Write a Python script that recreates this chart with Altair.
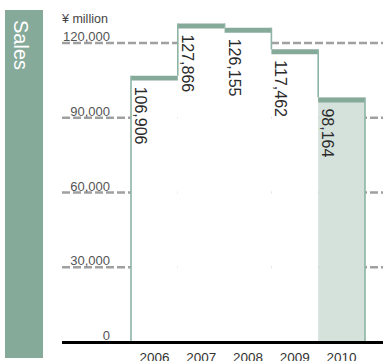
import altair as alt
import pandas as pd

years = ["2006", "2007", "2008", "2009", "2010"]
sales = [106906, 127866, 126155, 117462, 98164]
highlight = [False, False, False, False, True]
tick_values = [0, 30000, 60000, 90000, 120000]
tick_labels = ["0", "30,000", "60,000", "90,000", "120,000"]
grid_values = [30000, 60000, 90000, 120000]
unit_label = "¥ million"
side_title = "Sales"

W, H = 321, 342
XDOM = [-1.4744, 5.3846]
YDOM = [0, 137258]
GREEN = "#86aa9a"
LINE_GREEN = "#8db4a4"
FONT = "Liberation Sans"

xs = alt.Scale(domain=XDOM, nice=False, zero=False)
ys = alt.Scale(domain=YDOM, nice=False, zero=False)

bars = pd.DataFrame({"year": years, "sales": sales, "hl": highlight})
bars["i"] = list(range(len(years)))
bars["i2"] = bars["i"] + 1
bars["mid"] = bars["i"] + 0.5
bars["band_lo"] = bars["sales"] - 2000

edges = [{"x": 0, "lo": 0, "hi": sales[0]}]
for k in range(1, len(sales)):
    edges.append({"x": k, "lo": min(sales[k - 1], sales[k]), "hi": max(sales[k - 1], sales[k])})
edges.append({"x": len(sales), "lo": 0, "hi": sales[-1]})
edges = pd.DataFrame(edges)

grid = pd.DataFrame({"v": grid_values})
ticks = pd.DataFrame({"v": tick_values, "lab": tick_labels})
one = pd.DataFrame({"t": [unit_label]})
side = pd.DataFrame({"t": [side_title]})

grid_layer = alt.Chart(grid).mark_rule(
    color="#a0a0a0", strokeWidth=2.5, strokeDash=[8, 3]
).encode(
    y=alt.Y("v:Q", scale=ys, axis=None),
    x=alt.value(0), x2=alt.value(W),
)

bar_layer = alt.Chart(bars).mark_bar(strokeWidth=0).encode(
    x=alt.X("i:Q", scale=xs, axis=None),
    x2="i2:Q",
    y=alt.Y("sales:Q", scale=ys, axis=None),
    y2=alt.datum(0),
    color=alt.condition("datum.hl", alt.value("#d5e1db"), alt.value("white")),
)

band_layer = alt.Chart(bars).mark_bar(strokeWidth=0, color=GREEN).encode(
    x=alt.X("i:Q", scale=xs, axis=None),
    x2="i2:Q",
    y=alt.Y("sales:Q", scale=ys, axis=None),
    y2="band_lo:Q",
)

edge_layer = alt.Chart(edges).mark_rule(color=LINE_GREEN, strokeWidth=1.6).encode(
    x=alt.X("x:Q", scale=xs, axis=None),
    y=alt.Y("lo:Q", scale=ys, axis=None),
    y2="hi:Q",
)

value_text = alt.Chart(bars).mark_text(
    angle=90, align="left", baseline="alphabetic", fontSize=16,
    font=FONT, color="#2a2a2a", xOffset=4, yOffset=11,
).encode(
    x=alt.X("i:Q", scale=xs, axis=None),
    y=alt.Y("sales:Q", scale=ys, axis=None),
    text=alt.Text("sales:Q", format=","),
)

year_text = alt.Chart(bars).mark_text(
    align="center", baseline="alphabetic", fontSize=13.5, font=FONT, color="#333"
).encode(
    x=alt.X("mid:Q", scale=xs, axis=None),
    y=alt.value(361.5),
    text="year:N",
)

tick_text = alt.Chart(ticks).mark_text(
    align="right", baseline="alphabetic", fontSize=13, font=FONT,
    color="#555", yOffset=-2,
).encode(
    y=alt.Y("v:Q", scale=ys, axis=None),
    x=alt.value(48),
    text="lab:N",
)

unit_text = alt.Chart(one).mark_text(
    align="left", baseline="alphabetic", fontSize=12.5, font=FONT, color="#444"
).encode(x=alt.value(0), y=alt.value(23), text="t:N")

domain_rule = alt.Chart(one).mark_rule(color="black", strokeWidth=3).encode(
    y=alt.value(342.6), x=alt.value(0), x2=alt.value(W)
)

side_rect = alt.Chart(side).mark_rect(color=GREEN).encode(
    x=alt.value(-57), x2=alt.value(-19), y=alt.value(10), y2=alt.value(358)
)

side_text = alt.Chart(side).mark_text(
    angle=90, align="left", baseline="alphabetic", fontSize=20,
    font=FONT, color="white",
).encode(x=alt.value(-48), y=alt.value(20), text="t:N")

chart = alt.layer(
    grid_layer, bar_layer, band_layer, edge_layer, value_text, year_text,
    tick_text, unit_text, domain_rule, side_rect, side_text,
).properties(
    width=W, height=H,
    padding={"left": 62, "top": 0, "right": 0, "bottom": 19},
    autosize=alt.AutoSizeParams(type="none"),
).configure_view(stroke=None)

chart.save("out.html", embed_options={"renderer": "svg", "actions": False})
